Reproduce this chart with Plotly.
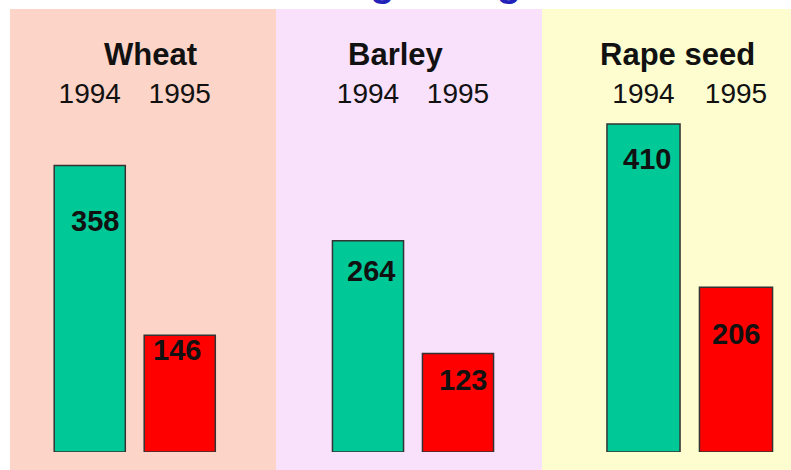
import plotly.graph_objects as go

# ---- data ----
crops = ["Wheat", "Barley", "Rape seed"]
years = ["1994", "1995"]
values_1994 = [358, 264, 410]
values_1995 = [146, 123, 206]
title_text = "Arable acreage \u2013 big cuts"

# ---- styles / layout helpers ----
W, H = 791, 470
green = "#00C896"
red = "#FF0000"
panel_colors = ["#FDD5C8", "#F9E0FB", "#FDFDD0"]
panel_edges_px = [10, 276, 542, 791]
panel_top_px = 9
x_domains_px = [(44.75, 224.75), (323, 503), (597.25, 782.25)]
crop_title_px = [(150, 54), (396, 54), (677.5, 54)]
plot_top_px, plot_bottom_px = 110, 452
px_per_unit = 0.8
label_dy = [[55, 15], [30, 26], [35, 47]]   # label centre below bar top (px)
label_dx = [[5, -3], [3, 5], [3, 0]]

narrow = "Liberation Sans Narrow, Arial Narrow, Liberation Sans, Arial, sans-serif"
regular = "Liberation Sans, Arial, sans-serif"

fig = go.Figure()
shapes = []
annotations = []
ydom = [(H - plot_bottom_px) / H, (H - plot_top_px) / H]
yrange = [0, (plot_bottom_px - plot_top_px) / px_per_unit]

for i, crop in enumerate(crops):
    xa = "x" if i == 0 else f"x{i+1}"
    ya = "y" if i == 0 else f"y{i+1}"
    vals = [values_1994[i], values_1995[i]]
    fig.add_trace(go.Bar(
        x=years, y=vals, xaxis=xa, yaxis=ya,
        marker=dict(color=[green, red], line=dict(color="#333333", width=1.5)),
        showlegend=False, hoverinfo="skip",
    ))
    d0, d1 = x_domains_px[i]
    axis_suffix = "" if i == 0 else str(i + 1)
    fig.update_layout(**{
        f"xaxis{axis_suffix}": dict(
            domain=[d0 / W, d1 / W], type="category", side="top",
            categoryorder="array", categoryarray=years,
            range=[-0.5, 1.5], automargin=False,
            showgrid=False, zeroline=False, showline=False, ticks="",
            tickfont=dict(family=narrow, size=28, color="#111111"),
            anchor=ya, fixedrange=True,
        ),
        f"yaxis{axis_suffix}": dict(
            domain=ydom, range=yrange, visible=False, anchor=xa,
            automargin=False,
            showgrid=False, zeroline=False, fixedrange=True,
        ),
    })
    shapes.append(dict(
        type="rect", xref="paper", yref="paper", layer="below",
        x0=panel_edges_px[i] / W, x1=panel_edges_px[i + 1] / W,
        y0=0, y1=(H - panel_top_px) / H,
        fillcolor=panel_colors[i], line=dict(width=0),
    ))
    tx, ty = crop_title_px[i]
    annotations.append(dict(
        text=f"<b>{crop}</b>", xref="paper", yref="paper",
        x=tx / W, y=(H - ty) / H, xanchor="center", yanchor="middle",
        showarrow=False, font=dict(family=regular, size=31, color="#111111"),
    ))
    for j, yr in enumerate(years):
        annotations.append(dict(
            text=f"<b>{vals[j]}</b>", xref=xa, yref=ya, x=j, y=vals[j],
            xanchor="center", yanchor="middle",
            yshift=-label_dy[i][j], xshift=label_dx[i][j],
            showarrow=False, font=dict(family=narrow, size=29, color="#111111"),
        ))

annotations.append(dict(
    text=f"<b>{title_text}</b>", xref="paper", yref="paper",
    x=128 / W, y=1, xanchor="left", yanchor="bottom", yshift=-6,
    showarrow=False, font=dict(family=regular, size=40, color="#2222BB"),
))

fig.update_layout(
    template="none",
    width=W, height=H, margin=dict(l=0, r=0, t=0, b=0, autoexpand=False),
    paper_bgcolor="white", plot_bgcolor="rgba(0,0,0,0)",
    bargap=0.21, shapes=shapes, annotations=annotations,
)

fig.write_html("out.html", config={"displayModeBar": False},
               post_script="document.body.style.margin='0';")
